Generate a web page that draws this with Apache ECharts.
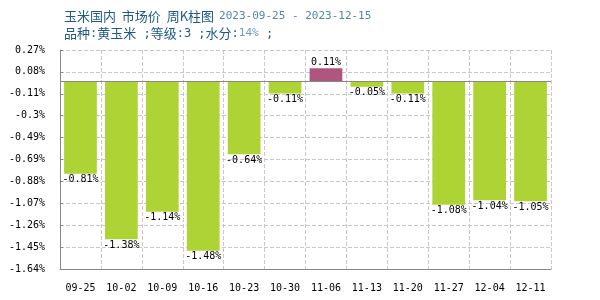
<!DOCTYPE html>
<html><head><meta charset="utf-8">
<script src="https://cdn.jsdelivr.net/npm/echarts@6/dist/echarts.min.js"></script>
<style>html,body{margin:0;padding:0;background:#fff}#c{width:600px;height:300px}</style>
</head><body><div id="c"></div>
<script>
var categories = ['09-25','10-02','10-09','10-16','10-23','10-30','11-06','11-13','11-20','11-27','12-04','12-11'];
var values = [-0.81,-1.38,-1.14,-1.48,-0.64,-0.11,0.11,-0.05,-0.11,-1.08,-1.04,-1.05];
var yTickLabels = ['-1.64%','-1.45%','-1.26%','-1.07%','-0.88%','-0.69%','-0.49%','-0.3%','-0.11%','0.08%','0.27%'];
var yMin = -1.64, yMax = 0.27;
var titleMain = '玉米国内  市场价  周K柱图';
var titleDate = '2023-09-25 - 2023-12-15';

var step = (yMax - yMin) / (yTickLabels.length - 1);
var tickVals = yTickLabels.map(function(_, i){ return +(yMin + i * step).toFixed(6); });
var mono = '"DejaVu Sans Mono", monospace';
var cjk = '"Noto Sans CJK SC", sans-serif';

var chart = echarts.init(document.getElementById('c'));
chart.setOption({
  animation: false,
  title: {
    left: 59, top: 2,
    text: '{a|' + titleMain + '} {b|' + titleDate + '}',
    subtext: '{a|品种}{m|:}{a|黄玉米}{m| ;}{a|等级}{m|:3 ;}{a|水分}{m|:}{b|14%}{m| ;}',
    itemGap: 2,
    textStyle: { fontWeight: 'normal', rich: {
      a: { fontSize: 13, color: '#1d5a86', fontFamily: cjk, fontWeight: 'normal' },
      b: { fontSize: 11, color: '#4f86b5', fontFamily: mono, fontWeight: 'normal' }
    }},
    subtextStyle: { rich: {
      a: { fontSize: 13, color: '#1d5a86', fontFamily: cjk },
      m: { fontSize: 12, color: '#1d5a86', fontFamily: mono },
      b: { fontSize: 11, color: '#6f9cc4', fontFamily: mono }
    }}
  },
  grid: { left: 60, right: 49, top: 50, bottom: 31, containLabel: false },
  xAxis: {
    type: 'category', data: categories,
    axisLine: { onZero: false, lineStyle: { color: '#888', width: 1 } },
    axisTick: { show: false },
    axisLabel: { color: '#000', fontFamily: mono, fontSize: 10, margin: 14, interval: 0 },
    splitLine: { show: true, interval: 0, lineStyle: { color: '#c8c8c8', type: 'dashed' } }
  },
  yAxis: {
    type: 'value', min: yMin, max: yMax,
    axisLine: { show: true, lineStyle: { color: '#888' } },
    axisTick: { show: true, inside: true, length: 3, lineStyle: { color: '#888' }, customValues: tickVals },
    axisLabel: { color: '#000', fontFamily: mono, fontSize: 10, margin: 15, customValues: tickVals,
      formatter: function(v){
        var i = Math.round((v - yMin) / step);
        return yTickLabels[i];
      } },
    splitLine: { show: true, lineStyle: { color: '#c8c8c8', type: 'dashed' } }
  },
  series: [{
    type: 'bar', data: values.map(function(v){
      return { value: v,
        itemStyle: { color: v >= 0 ? '#b0557f' : '#add434' },
        label: { position: v >= 0 ? 'top' : 'bottom' } };
    }),
    barCategoryGap: '20%',
    label: { show: true, distance: 1, color: '#000', fontFamily: mono, fontSize: 10,
      formatter: function(p){ return p.value + '%'; } },
    markLine: { silent: true, symbol: 'none', label: { show: false },
      lineStyle: { color: '#888', type: 'solid', width: 1 },
      data: [{ yAxis: 0 }] }
  }]
});
</script></body></html>
